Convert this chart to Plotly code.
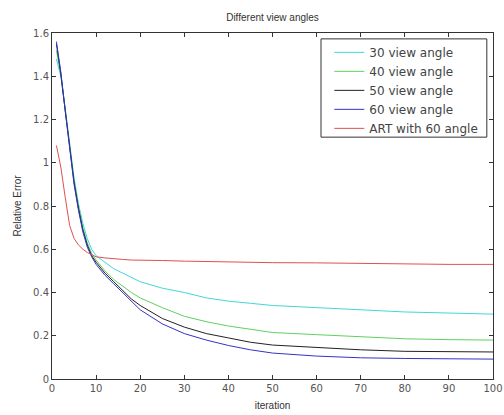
import plotly.graph_objects as go

iterations = [1, 2, 3, 4, 5, 6, 7, 8, 9, 10, 12, 14, 16, 18, 20, 25, 30, 35, 40, 45, 50, 60, 70, 80, 90, 100]

err_30 = [1.48, 1.40, 1.25, 1.08, 0.93, 0.81, 0.72, 0.65, 0.60, 0.57, 0.54, 0.51, 0.49, 0.47, 0.45, 0.42, 0.40, 0.375, 0.36, 0.35, 0.34, 0.33, 0.32, 0.31, 0.305, 0.30]
err_40 = [1.52, 1.41, 1.25, 1.08, 0.92, 0.80, 0.70, 0.63, 0.58, 0.55, 0.50, 0.46, 0.43, 0.40, 0.375, 0.33, 0.29, 0.265, 0.245, 0.23, 0.215, 0.205, 0.195, 0.186, 0.182, 0.18]
err_50 = [1.55, 1.41, 1.24, 1.07, 0.91, 0.79, 0.69, 0.62, 0.57, 0.54, 0.49, 0.45, 0.41, 0.37, 0.34, 0.28, 0.24, 0.21, 0.19, 0.17, 0.157, 0.145, 0.135, 0.128, 0.125, 0.125]
err_60 = [1.56, 1.42, 1.24, 1.06, 0.90, 0.78, 0.68, 0.61, 0.565, 0.53, 0.48, 0.44, 0.40, 0.36, 0.32, 0.255, 0.21, 0.18, 0.155, 0.135, 0.12, 0.106, 0.098, 0.095, 0.093, 0.092]
err_art = [1.08, 0.98, 0.84, 0.71, 0.65, 0.62, 0.60, 0.585, 0.575, 0.565, 0.56, 0.555, 0.553, 0.55, 0.55, 0.548, 0.545, 0.543, 0.54, 0.54, 0.538, 0.537, 0.535, 0.53, 0.53, 0.53]

names = ["30 view angle", "40 view angle", "50 view angle", "60 view angle", "ART with 60 angle"]
colors = ["#40d8d8", "#60d060", "#222222", "#3333cc", "#e05050"]
series = [err_30, err_40, err_50, err_60, err_art]

fig = go.Figure()
for name, col, ys in zip(names, colors, series):
    fig.add_trace(go.Scatter(x=iterations, y=ys, mode="lines", name=name,
                             line=dict(color=col, width=1)))

axis_common = dict(showgrid=False, zeroline=False, showline=True, linecolor="#333333",
                   linewidth=1, mirror="ticks", ticks="inside", ticklen=4,
                   tickcolor="#333333", automargin=False,
                   tickfont=dict(family="DejaVu Sans, sans-serif", size=10, color="#555555"))

W, H = 504, 415
fig.update_layout(
    width=W, height=H,
    margin=dict(l=52, r=11, t=33, b=36, autoexpand=False),
    paper_bgcolor="white", plot_bgcolor="white",
    font=dict(family="Liberation Sans, Arial, sans-serif", size=11, color="#333333"),
    title=dict(text="Different view angles", x=(52 + 441 / 2) / W, xanchor="center",
               yref="container", y=1 - 17 / H, yanchor="middle",
               font=dict(size=10, color="#333333")),
    showlegend=True,
    legend=dict(x=0.978, y=0.986, xanchor="right", yanchor="top",
                bgcolor="rgba(0,0,0,0)", borderwidth=0,
                font=dict(family="DejaVu Sans, sans-serif", size=12, color="#444444"),
                tracegroupgap=0),
    shapes=[dict(type="rect", xref="paper", yref="paper", x0=0.610, x1=0.986,
                 y0=0.699, y1=0.983, line=dict(color="#333333", width=1),
                 fillcolor="white", layer="above")],
    xaxis=dict(range=[0, 100], tick0=0, dtick=10,
               title=dict(text="iteration", standoff=8, font=dict(size=10)), **axis_common),
    yaxis=dict(range=[0, 1.6], tick0=0, dtick=0.2,
               title=dict(text="Relative Error", standoff=9, font=dict(size=10)), **axis_common),
)

fig.write_html("out.html", config={"displayModeBar": False},
               post_script="document.body.style.margin='0';document.body.style.overflow='hidden';")
